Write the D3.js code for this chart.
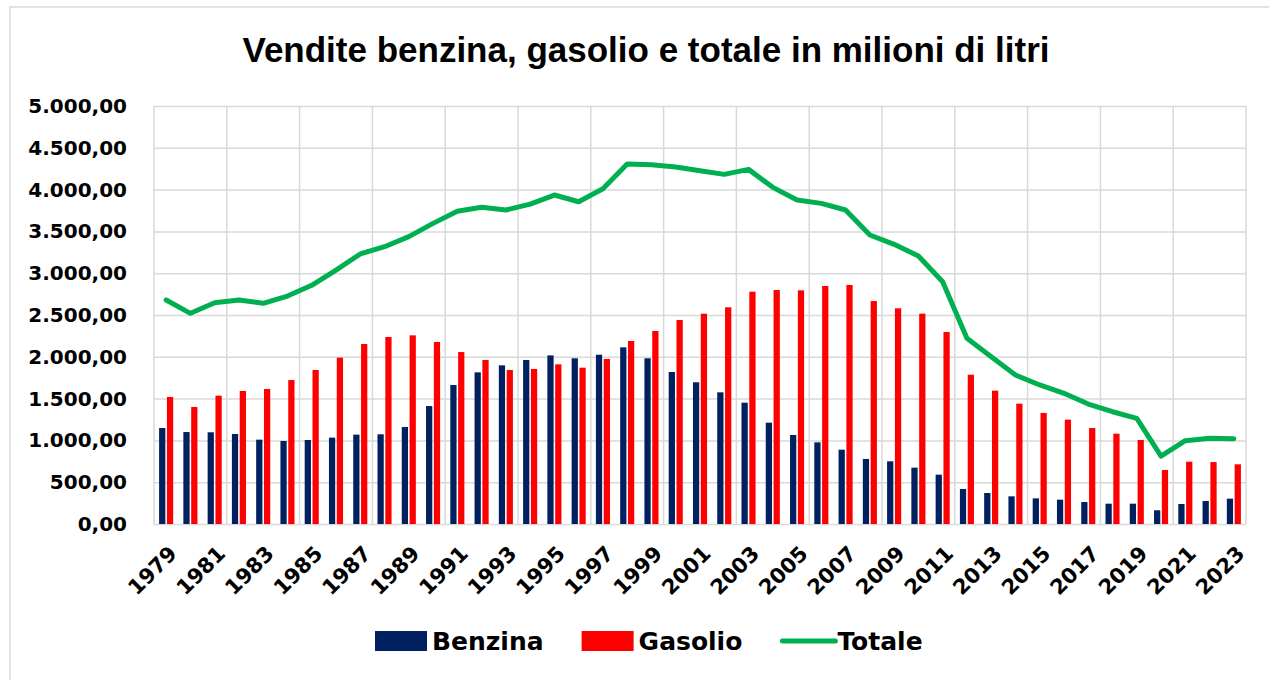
<!DOCTYPE html>
<html>
<head>
<meta charset="utf-8">
<style>
  body { margin: 0; background: #fff; }
  svg { display: block; }
  .grid line { stroke: #d9d9d9; stroke-width: 1.5px; }
  .lbl { font-family: "DejaVu Sans", sans-serif; font-weight: bold; fill: #000; }
</style>
</head>
<body>
<svg id="chart" width="1269" height="680"></svg>
<script src="https://cdnjs.cloudflare.com/ajax/libs/d3/7.8.5/d3.min.js"></script>
<script>
// years 1979..2023
var years = d3.range(1979, 2024);

var benzina = [1148, 1100, 1097, 1077, 1009, 993, 1005, 1033, 1069, 1073,
  1160, 1411, 1663, 1814, 1898, 1962, 2017, 1982, 2025, 2113,
  1982, 1818, 1695, 1575, 1451, 1212, 1065, 977, 889, 778,
  750, 674, 590, 419, 371, 331, 307, 291, 263, 243,
  243, 164, 239, 275, 303];

var gasolio = [1519, 1400, 1535, 1591, 1615, 1722, 1842, 1990, 2153, 2237,
  2257, 2177, 2057, 1962, 1842, 1854, 1910, 1870, 1974, 2189,
  2309, 2440, 2516, 2592, 2779, 2799, 2795, 2847, 2859, 2667,
  2580, 2516, 2297, 1786, 1595, 1439, 1328, 1248, 1148, 1080,
  1005, 646, 745, 741, 714];

var totale = [2679, 2520, 2647, 2679, 2640, 2727, 2855, 3038, 3230, 3317,
  3437, 3596, 3740, 3788, 3756, 3827, 3935, 3855, 4010, 4306,
  4298, 4270, 4226, 4182, 4242, 4027, 3875, 3835, 3756, 3457,
  3345, 3206, 2898, 2221, 2001, 1782, 1663, 1563, 1435, 1343,
  1264, 813, 996, 1025, 1020];

var yTicks = [0, 500, 1000, 1500, 2000, 2500, 3000, 3500, 4000, 4500, 5000];

var svg = d3.select("#chart");
var pLeft = 154, pRight = 1246, pTop = 106, pBottom = 524;

// outer chart frame
svg.append("rect")
  .attr("x", 10).attr("y", 7).attr("width", 1300).attr("height", 700)
  .attr("fill", "none").attr("stroke", "#d9d9d9").attr("stroke-width", 1.5);

svg.append("text").attr("class", "lbl")
  .attr("x", 646).attr("y", 62)
  .attr("text-anchor", "middle")
  .style("font-family", "'Liberation Sans', Arial, sans-serif")
  .style("font-size", "35px")
  .text("Vendite benzina, gasolio e totale in milioni di litri");

var x = d3.scaleBand().domain(years).range([pLeft, pRight]);
var x1 = d3.scaleBand().domain(["b", "g"])
  .range([x.bandwidth() * 0.21, x.bandwidth() * 0.79]).paddingInner(0.2);
var y = d3.scaleLinear().domain([0, 5000]).range([pBottom, pTop]);

var fmt = d3.formatLocale({ decimal: ",", thousands: ".", grouping: [3], currency: ["", "€"] }).format(",.2f");

// horizontal grid + y labels
var yAxis = d3.axisLeft(y).tickValues(yTicks).tickSize(-(pRight - pLeft)).tickFormat(fmt).tickPadding(27);
var gy = svg.append("g").attr("class", "grid").attr("transform", "translate(" + pLeft + ",0)").call(yAxis);
gy.select(".domain").remove();
gy.selectAll("text").attr("class", "lbl").style("font-size", "20px");

// vertical grid every 3 categories
var vx = years.filter((d, i) => i % 3 === 0).map(d => x(d)).concat([pRight]);
svg.append("g").attr("class", "grid").selectAll("line").data(vx).join("line")
  .attr("x1", d => d).attr("x2", d => d).attr("y1", pTop).attr("y2", pBottom);

// bars
var groups = svg.append("g").selectAll("g").data(years).join("g")
  .attr("transform", d => "translate(" + x(d) + ",0)");
groups.append("rect")
  .attr("x", x1("b")).attr("width", x1.bandwidth())
  .attr("y", (d, i) => y(benzina[i])).attr("height", (d, i) => pBottom - y(benzina[i]))
  .attr("fill", "#002060");
groups.append("rect")
  .attr("x", x1("g")).attr("width", x1.bandwidth())
  .attr("y", (d, i) => y(gasolio[i])).attr("height", (d, i) => pBottom - y(gasolio[i]))
  .attr("fill", "#ff0000");

// totale line
var line = d3.line().x((d, i) => x(years[i]) + x.bandwidth() / 2).y(d => y(d));
svg.append("path").datum(totale)
  .attr("d", line).attr("fill", "none")
  .attr("stroke", "#00b050").attr("stroke-width", 5)
  .attr("stroke-linejoin", "round").attr("stroke-linecap", "round");

// x labels every 2 years, rotated
var xAxis = d3.axisBottom(x).tickValues(years.filter((d, i) => i % 2 === 0)).tickSize(0).tickPadding(0);
var gx = svg.append("g").attr("transform", "translate(0," + pBottom + ")").call(xAxis);
gx.select(".domain").remove();
gx.selectAll("text").attr("class", "lbl").style("font-size", "21px")
  .attr("text-anchor", "end")
  .attr("dy", 0).attr("y", 0)
  .attr("transform", "translate(12,31) rotate(-45)");

// legend
var legendItems = [
  { name: "Benzina", color: "#002060", type: "rect" },
  { name: "Gasolio", color: "#ff0000", type: "rect" },
  { name: "Totale", color: "#00b050", type: "line" }
];
var lg = svg.append("g");
var lx = 375, ly = 641;
legendItems.forEach(function (it) {
  if (it.type === "rect") {
    lg.append("rect").attr("x", lx).attr("y", ly - 10).attr("width", 52).attr("height", 20).attr("fill", it.color);
  } else {
    lg.append("line").attr("x1", lx + 2).attr("x2", lx + 55).attr("y1", ly).attr("y2", ly)
      .attr("stroke", it.color).attr("stroke-width", 5).attr("stroke-linecap", "round");
  }
  var t = lg.append("text").attr("class", "lbl").attr("x", lx + 57).attr("y", ly + 9)
    .style("font-size", "25px").text(it.name);
  lx += 57 + t.node().getComputedTextLength() + 38;
});
</script>
</body>
</html>
